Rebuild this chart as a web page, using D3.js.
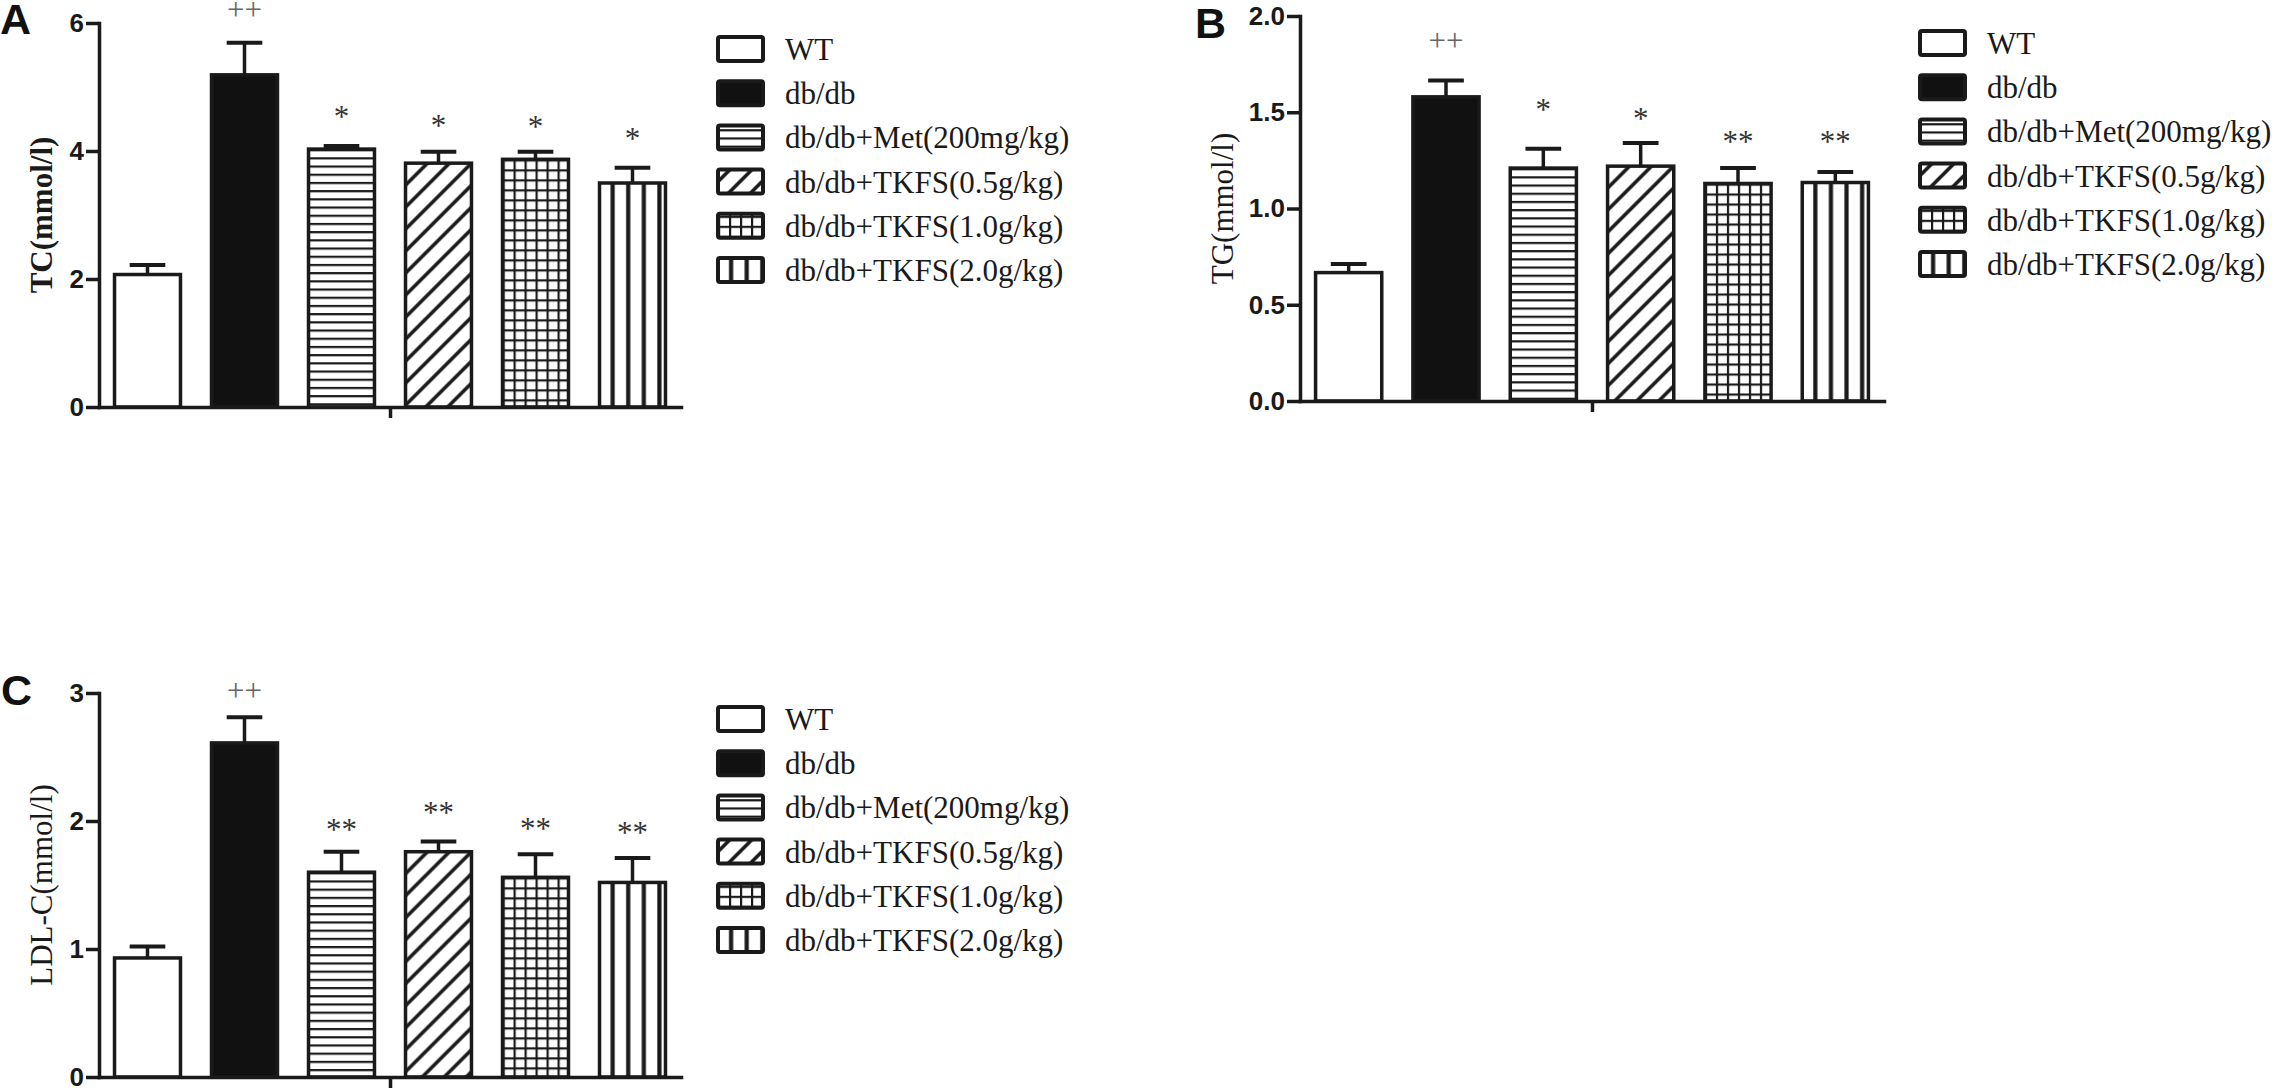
<!DOCTYPE html>
<html>
<head>
<meta charset="utf-8">
<script src="https://cdn.jsdelivr.net/npm/d3@7"></script>
<style>
  body { margin: 0; background: #fff; }
  svg { display: block; }
  .axis path, .axis line { stroke: #1a1a1a; stroke-width: 3.5; }
  .axis text { font-family: "Liberation Sans", Arial, sans-serif; font-weight: bold; font-size: 26px; fill: #1a1a1a; }
  .ytitle { font-family: "Liberation Serif", "Times New Roman", serif; font-size: 31px; fill: #1a1a1a; }
  .letter { font-family: "Liberation Sans", Arial, sans-serif; font-weight: bold; font-size: 43px; fill: #111; }
  .legend text { font-family: "Liberation Serif", "Times New Roman", serif; font-size: 31px; fill: #1a1a1a; }
  .sig { font-family: "Liberation Serif", "Times New Roman", serif; font-size: 31px; }
</style>
</head>
<body>
<svg width="2281" height="1091"></svg>
<script>
// groups shared by the three panels
const groups = ["WT", "db/db", "db/db+Met(200mg/kg)", "db/db+TKFS(0.5g/kg)",
                "db/db+TKFS(1.0g/kg)", "db/db+TKFS(2.0g/kg)"];

// A: total cholesterol
const tcMean = [2.07, 5.19, 4.03, 3.81, 3.87, 3.50];
const tcErr  = [0.15, 0.50, 0.05, 0.18, 0.12, 0.24];
const tcSig  = ["", "++", "*", "*", "*", "*"];
const tcSigY = [null, 6.17, 4.61, 4.47, 4.45, 4.27];
const tcTicks = [0, 2, 4, 6];

// B: triglycerides
const tgMean = [0.667, 1.58, 1.21, 1.22, 1.13, 1.135];
const tgErr  = [0.045, 0.085, 0.10, 0.12, 0.08, 0.055];
const tgSig  = ["", "++", "*", "*", "**", "**"];
const tgSigY = [null, 1.86, 1.536, 1.49, 1.37, 1.37];
const tgTicks = [0, 0.5, 1.0, 1.5, 2.0];

// C: LDL cholesterol
const ldlMean = [0.93, 2.61, 1.60, 1.76, 1.56, 1.52];
const ldlErr  = [0.09, 0.20, 0.16, 0.08, 0.18, 0.19];
const ldlSig  = ["", "++", "**", "**", "**", "**"];
const ldlSigY = [null, 3.0, 1.97, 2.10, 1.98, 1.945];
const ldlTicks = [0, 1, 2, 3];

const svg = d3.select("svg");
const ink = "#1a1a1a";

// fill patterns, one per group
const defs = svg.append("defs");

const pH = defs.append("pattern").attr("id", "p-hline")
  .attr("patternUnits", "userSpaceOnUse").attr("width", 10).attr("height", 8.2);
pH.append("rect").attr("width", 10).attr("height", 8.2).attr("fill", "#fff");
pH.append("rect").attr("y", 0).attr("width", 10).attr("height", 2.2).attr("fill", ink);

const pD = defs.append("pattern").attr("id", "p-diag")
  .attr("patternUnits", "userSpaceOnUse").attr("width", 22).attr("height", 22);
pD.append("rect").attr("width", 22).attr("height", 22).attr("fill", "#fff");
pD.append("path").attr("d", "M0,22L22,0M-11,11L11,-11M11,33L33,11")
  .attr("stroke", ink).attr("stroke-width", 3.6);

const pG = defs.append("pattern").attr("id", "p-grid")
  .attr("patternUnits", "userSpaceOnUse").attr("width", 11).attr("height", 10);
pG.append("rect").attr("width", 11).attr("height", 10).attr("fill", "#fff");
pG.append("rect").attr("x", 0).attr("width", 2.2).attr("height", 10).attr("fill", ink);
pG.append("rect").attr("y", 0).attr("width", 11).attr("height", 2.2).attr("fill", ink);

const pV = defs.append("pattern").attr("id", "p-vline")
  .attr("patternUnits", "userSpaceOnUse").attr("width", 15.6).attr("height", 10);
pV.append("rect").attr("width", 15.6).attr("height", 10).attr("fill", "#fff");
pV.append("rect").attr("x", 11).attr("width", 4.2).attr("height", 10).attr("fill", ink);

const fills = ["#fff", "#111", "url(#p-hline)", "url(#p-diag)", "url(#p-grid)", "url(#p-vline)"];

const panels = [
  {letter: "A", title: "TC(mmol/l)", bold: true, mean: tcMean, err: tcErr, sig: tcSig, sigY: tcSigY,
   ticks: tcTicks, fmt: d3.format("d"), max: 6,
   x0: 99, x1: 681, top: 23, zero: 407, tx: 52, lx: 0, ly: 34, legX: 718, legY: 49},
  {letter: "B", title: "TG(mmol/l)", bold: false, mean: tgMean, err: tgErr, sig: tgSig, sigY: tgSigY,
   ticks: tgTicks, fmt: d3.format(".1f"), max: 2,
   x0: 1300, x1: 1884, top: 16, zero: 401, tx: 1233, lx: 1195, ly: 38, legX: 1920, legY: 43},
  {letter: "C", title: "LDL-C(mmol/l)", bold: false, mean: ldlMean, err: ldlErr, sig: ldlSig, sigY: ldlSigY,
   ticks: ldlTicks, fmt: d3.format("d"), max: 3,
   x0: 99, x1: 681, top: 693, zero: 1077, tx: 52, lx: 1, ly: 705, legX: 718, legY: 719}
];

panels.forEach(drawPanel);

function drawPanel(p) {
  const g = svg.append("g");

  const x = d3.scaleBand()
    .domain(groups)
    .range([p.x0, p.x1])
    .paddingInner(0.32)
    .paddingOuter(0.16);

  const y = d3.scaleLinear()
    .domain([0, p.max])
    .range([p.zero, p.top]);

  const rows = groups.map((name, i) => ({
    name: name, i: i, mean: p.mean[i], err: p.err[i], sig: p.sig[i], sigY: p.sigY[i]
  }));

  // bars
  const bars = g.selectAll("g.bar")
    .data(rows)
    .enter()
    .append("g")
    .attr("class", "bar")
    .attr("transform", d => `translate(${x(d.name)},${y(d.mean)})`);

  bars.append("rect")
    .attr("width", x.bandwidth())
    .attr("height", d => y(0) - y(d.mean))
    .attr("fill", d => fills[d.i])
    .attr("stroke", ink)
    .attr("stroke-width", 3.5);

  // error bars (upper only)
  const half = x.bandwidth() * 0.27;
  const eb = g.selectAll("g.err")
    .data(rows)
    .enter()
    .append("g")
    .attr("class", "err");

  eb.append("line")
    .attr("x1", d => x(d.name) + x.bandwidth() / 2)
    .attr("x2", d => x(d.name) + x.bandwidth() / 2)
    .attr("y1", d => y(d.mean))
    .attr("y2", d => y(d.mean + d.err))
    .attr("stroke", ink)
    .attr("stroke-width", 3.5);

  eb.append("line")
    .attr("x1", d => x(d.name) + x.bandwidth() / 2 - half)
    .attr("x2", d => x(d.name) + x.bandwidth() / 2 + half)
    .attr("y1", d => y(d.mean + d.err))
    .attr("y2", d => y(d.mean + d.err))
    .attr("stroke", ink)
    .attr("stroke-width", 4);

  // significance marks
  g.selectAll("text.sig")
    .data(rows.filter(d => d.sig))
    .enter()
    .append("text")
    .attr("class", "sig")
    .attr("text-anchor", "middle")
    .attr("x", d => x(d.name) + x.bandwidth() / 2)
    .attr("y", d => y(d.sigY))
    .attr("dy", d => d.sig.startsWith("+") ? 8 : 15)
    .attr("fill", d => d.sig.startsWith("+") ? "#666" : "#333")
    .text(d => d.sig);

  // axes
  g.append("g")
    .attr("class", "axis")
    .attr("transform", `translate(${p.x0},0)`)
    .call(d3.axisLeft(y).tickValues(p.ticks).tickFormat(p.fmt)
      .tickSize(13).tickSizeOuter(0).tickPadding(2));

  const xc = d3.scaleLinear().domain([0, 1]).range([p.x0, p.x1]);
  g.append("g")
    .attr("class", "axis")
    .attr("transform", `translate(0,${p.zero})`)
    .call(d3.axisBottom(xc).tickValues([0.5]).tickFormat("")
      .tickSize(11).tickSizeOuter(0));

  g.selectAll(".axis .domain").attr("stroke-linecap", "square");

  // y title
  g.append("text")
    .attr("class", "ytitle")
    .attr("font-weight", p.bold ? "bold" : "normal")
    .attr("text-anchor", "middle")
    .attr("transform", `translate(${p.tx},${(p.top + p.zero) / 2}) rotate(-90)`)
    .text(p.title);

  // panel letter
  g.append("text")
    .attr("class", "letter")
    .attr("x", p.lx)
    .attr("y", p.ly)
    .text(p.letter);

  // legend
  const leg = g.append("g").attr("class", "legend");
  const item = leg.selectAll("g")
    .data(rows)
    .enter()
    .append("g")
    .attr("transform", d => `translate(${p.legX},${p.legY + d.i * 44.2})`);

  item.append("rect")
    .attr("y", -12)
    .attr("width", 45)
    .attr("height", 24)
    .attr("rx", 2)
    .attr("fill", d => fills[d.i])
    .attr("stroke", ink)
    .attr("stroke-width", 4);

  item.append("text")
    .attr("x", 67)
    .attr("y", 11)
    .text(d => d.name);
}
</script>
</body>
</html>
